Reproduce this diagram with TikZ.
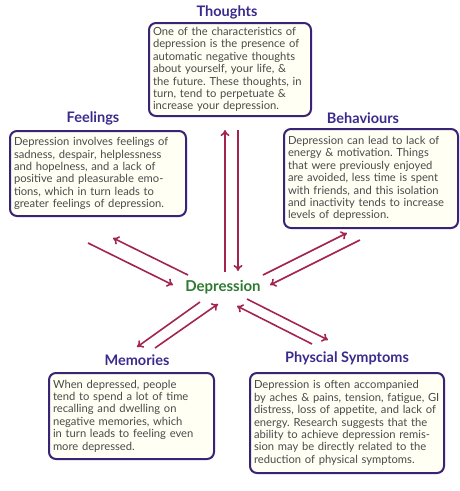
\documentclass[tikz,border=0pt]{standalone}
\usepackage{fontspec}
\setmainfont{Lato}
\usetikzlibrary{arrows.meta}
\frenchspacing
\definecolor{boxline}{HTML}{3A2277}
\definecolor{boxfill}{HTML}{FFFFF4}
\definecolor{titlecol}{HTML}{3B2A8C}
\definecolor{bodycol}{HTML}{4A4A4A}
\definecolor{arrowcol}{HTML}{A3254F}
\definecolor{depcol}{HTML}{2E7A32}
\tikzset{
  box/.style={draw=boxline, line width=2pt, fill=boxfill, rounded corners=7pt,
    anchor=north west, align=left, inner xsep=4pt, inner ysep=4pt,
    font=\fontsize{11.2}{12.4}\selectfont, text=bodycol},
  title/.style={font=\bfseries\fontsize{14.5}{16}\selectfont, text=titlecol},
  link/.style={draw=arrowcol, line width=1.6pt, -{To[length=6pt,width=9pt]}},
}
\begin{document}
\begin{tikzpicture}[x=1pt,y=-1pt]
\useasboundingbox (0,0) rectangle (460,491);
% titles
\node[title] (tt) at (227,12) {Thoughts};
\node[title] (tf) at (93,118) {Feelings};
\node[title] (tb) at (363,118) {Behaviours};
\node[title] (tm) at (137,360) {Memories};
\node[title] (tp) at (347,358) {Physcial Symptoms};
% boxes
\node[box, text width=154pt, minimum height=93pt] (bt) at (148,22)
 {One of the characteristics of\\depression is the presence of\\automatic negative thoughts\\about yourself, your life, \&\\the future. These thoughts, in\\turn, tend to perpetuate \&\\increase your depression.};
\node[box, text width=168pt, minimum height=85pt] (bf) at (9,130)
 {Depression involves feelings of\\sadness, despair, helplessness\\and hopelness, and a lack of\\positive and pleasurable emo-\\tions, which in turn leads to\\greater feelings of depression.};
\node[box, text width=166pt, minimum height=99pt] (bb) at (283,128)
 {Depression can lead to lack of\\energy \& motivation. Things\\that were previously enjoyed\\are avoided, less time is spent\\with friends, and this isolation\\and inactivity tends to increase\\levels of depression.};
\node[box, text width=157pt, minimum height=86pt] (bm) at (48,372)
 {When depressed, people\\tend to spend a lot of time\\recalling and dwelling on\\negative memories, which\\in turn leads to feeling even\\more depressed.};
\node[box, text width=186pt, minimum height=100pt] (bp) at (249,372)
 {Depression is often accompanied\\by aches \& pains, tension, fatigue, GI\\distress, loss of appetite, and lack of\\energy. Research suggests that the\\ability to achieve depression remis-\\sion may be directly related to the\\reduction of physical symptoms.};
% centre
\node[font=\bfseries\fontsize{15}{17}\selectfont, text=depcol] (dep) at (223,287) {Depression};
% arrow ends
\coordinate (t1a) at (225,272); \coordinate (t1b) at (225,130);
\coordinate (t2a) at (238,130); \coordinate (t2b) at (238,271);
\coordinate (f1a) at (188,275); \coordinate (f1b) at (113,238);
\coordinate (f2a) at (88,243);  \coordinate (f2b) at (173,285);
\coordinate (b1a) at (263,275); \coordinate (b1b) at (347,233);
\coordinate (b2a) at (360,240); \coordinate (b2b) at (270,285);
\coordinate (m1a) at (200,302); \coordinate (m1b) at (137,347);
\coordinate (m2a) at (155,348); \coordinate (m2b) at (218,304);
\coordinate (p1a) at (247,299); \coordinate (p1b) at (328,340);
\coordinate (p2a) at (312,344); \coordinate (p2b) at (237,306);
\draw[link] (t1a) -- (t1b);
\draw[link] (t2a) -- (t2b);
\draw[link] (f1a) -- (f1b);
\draw[link] (f2a) -- (f2b);
\draw[link] (b1a) -- (b1b);
\draw[link] (b2a) -- (b2b);
\draw[link] (m1a) -- (m1b);
\draw[link] (m2a) -- (m2b);
\draw[link] (p1a) -- (p1b);
\draw[link] (p2a) -- (p2b);
\end{tikzpicture}
\end{document}
